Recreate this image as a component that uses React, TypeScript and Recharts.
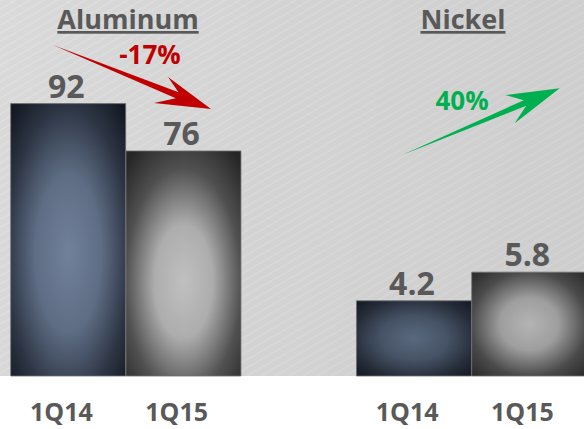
import React from 'react';
import { ComposedChart, Bar, XAxis, YAxis, Cell, LabelList, Customized } from 'recharts';

const slots = ['al14', 'al15', 'gap', 'ni14', 'ni15'];
const tickLabels = ['1Q14', '1Q15', '', '1Q14', '1Q15'];
const aluminumValues = [92, 76, null, null, null];
const nickelValues = [null, null, null, 4.2, 5.8];
const titles = ['Aluminum', 'Nickel'];
const changeLabels = ['-17%', '40%'];

const data = slots.map((s, i) => ({ slot: s, al: aluminumValues[i], ni: nickelValues[i] }));

const barFills = ['url(#gNavy)', 'url(#gSteel)', 'none', 'url(#gNavy2)', 'url(#gSteel2)'];

const FONT = "'Open Sans', 'DejaVu Sans', sans-serif";
const GRAY = '#595959';

const Tick = (props: any) => {
  const { x, payload } = props;
  const idx = slots.indexOf(payload.value);
  return (
    <text x={x - 7} y={421} textAnchor="middle" fill={GRAY} fontSize={25} fontWeight="bold" fontFamily={FONT}>
      {tickLabels[idx]}
    </text>
  );
};

const ValueLabel = (props: any) => {
  const { x, y, width, value } = props;
  if (value === null || value === undefined) return null;
  return (
    <text x={x + width / 2 - 2} y={y - 6} textAnchor="middle" fill={GRAY} fontSize={32} fontWeight="bold" fontFamily={FONT}>
      {value}
    </text>
  );
};

const Annotations = () => (
  <g>
    <text x={128} y={29} textAnchor="middle" fill={GRAY} fontSize={27} fontWeight="bold" fontFamily={FONT} textDecoration="underline">
      {titles[0]}
    </text>
    <text x={463} y={29} textAnchor="middle" fill={GRAY} fontSize={27} fontWeight="bold" fontFamily={FONT} textDecoration="underline">
      {titles[1]}
    </text>
    <polygon points="53,45 178.5,92.2 168,77 211,109 154,103 175.8,98.2" fill="#C00000" />
    <text x={150} y={64} textAnchor="middle" fill="#C00000" fontSize={26} fontWeight="bold" fontFamily={FONT}>
      {changeLabels[0]}
    </text>
    <polygon points="402,155 523.8,100.2 505.3,95 559.7,88.3 514.7,123.3 526.2,105.8" fill="#00B050" />
    <text x={462} y={110} textAnchor="middle" fill="#00B050" fontSize={26} fontWeight="bold" fontFamily={FONT}>
      {changeLabels[1]}
    </text>
  </g>
);

export default function App() {
  return (
    <div style={{ position: 'absolute', left: 0, top: 0, width: 584, height: 429, overflow: 'hidden', background: '#ffffff' }}>
      <div
        style={{
          position: 'absolute',
          left: 0,
          top: 0,
          width: 584,
          height: 376,
          background:
            'repeating-linear-gradient(150deg, rgba(255,255,255,0.05) 0px, rgba(255,255,255,0.05) 2px, rgba(0,0,0,0.012) 2px, rgba(0,0,0,0.012) 7px), linear-gradient(100deg, #dcdcdc 0%, #d5d5d5 50%, #cfcfcf 100%)',
        }}
      />
      <div style={{ position: 'absolute', left: 0, top: 0 }}>
        <ComposedChart
          width={590}
          height={429}
          data={data}
          margin={{ top: 0, right: 3, left: 10.7, bottom: 0 }}
          barCategoryGap={0}
          barGap={0}
        >
          <defs>
            <radialGradient id="gNavy" cx="0.5" cy="0.55" r="0.72">
              <stop offset="0%" stopColor="#71819a" />
              <stop offset="40%" stopColor="#5e6d84" />
              <stop offset="75%" stopColor="#2c3443" />
              <stop offset="100%" stopColor="#121720" />
            </radialGradient>
            <radialGradient id="gNavy2" cx="0.5" cy="0.5" r="0.72">
              <stop offset="0%" stopColor="#5a687e" />
              <stop offset="40%" stopColor="#465366" />
              <stop offset="75%" stopColor="#252c38" />
              <stop offset="100%" stopColor="#121720" />
            </radialGradient>
            <radialGradient id="gSteel" cx="0.5" cy="0.58" r="0.72">
              <stop offset="0%" stopColor="#c0c0c0" />
              <stop offset="35%" stopColor="#adadad" />
              <stop offset="70%" stopColor="#505050" />
              <stop offset="100%" stopColor="#262626" />
            </radialGradient>
            <radialGradient id="gSteel2" cx="0.5" cy="0.5" r="0.72">
              <stop offset="0%" stopColor="#b4b4b4" />
              <stop offset="35%" stopColor="#9e9e9e" />
              <stop offset="70%" stopColor="#4a4a4a" />
              <stop offset="100%" stopColor="#262626" />
            </radialGradient>
          </defs>
          <XAxis xAxisId="a" dataKey="slot" height={53} axisLine={false} tickLine={false} tick={<Tick />} interval={0} />
          <XAxis xAxisId="b" dataKey="slot" hide />
          <YAxis yAxisId="al" hide domain={[0, 127]} />
          <YAxis yAxisId="ni" hide domain={[0, 21]} />
          <Bar xAxisId="a" yAxisId="al" dataKey="al" isAnimationActive={false} stroke="#6e6e6e" strokeWidth={0.8}>
            {data.map((d, i) => (
              <Cell key={'a' + i} fill={barFills[i]} />
            ))}
            <LabelList dataKey="al" content={<ValueLabel />} />
          </Bar>
          <Bar xAxisId="b" yAxisId="ni" dataKey="ni" isAnimationActive={false} stroke="#6e6e6e" strokeWidth={0.8}>
            {data.map((d, i) => (
              <Cell key={'n' + i} fill={barFills[i]} />
            ))}
            <LabelList dataKey="ni" content={<ValueLabel />} />
          </Bar>
          <Customized component={<Annotations />} />
        </ComposedChart>
      </div>
    </div>
  );
}
